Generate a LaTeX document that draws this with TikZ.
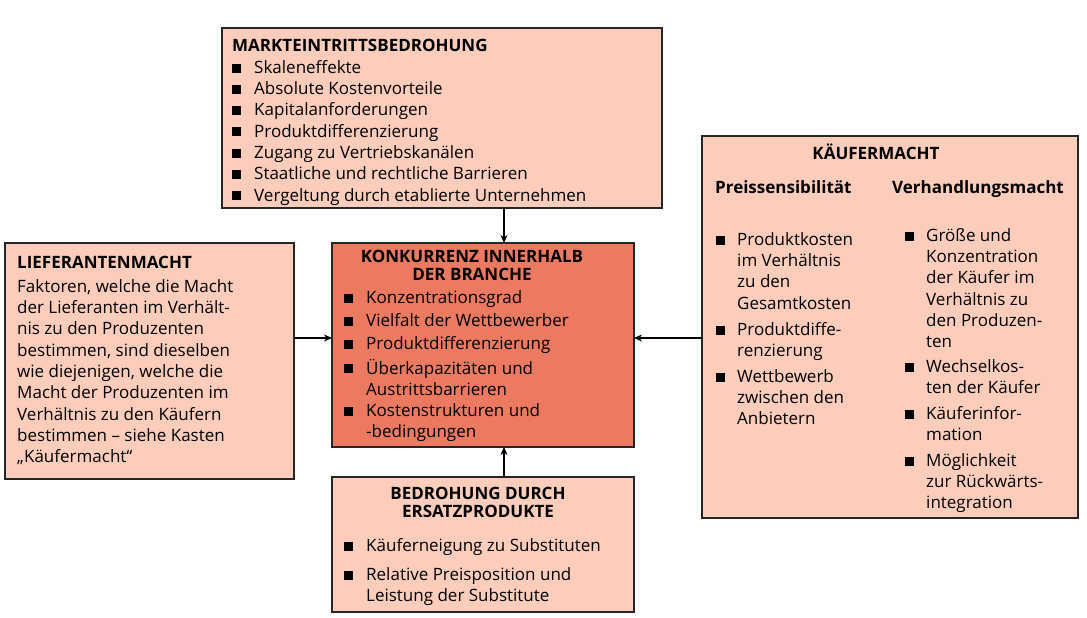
\documentclass[tikz,border=0pt]{standalone}
\usepackage{fontspec}
\setmainfont{Open Sans}
\usetikzlibrary{arrows.meta}
\tikzset{
  box/.style={draw=black!85, line width=1.6pt, fill=boxc, anchor=north west, inner sep=0pt, outer sep=0pt},
  txt/.style={anchor=north west, inner sep=0pt, align=left, font=\fontsize{17}{21.3}\selectfont},
  ttl/.style={anchor=north, inner sep=0pt, align=center, font=\fontsize{17}{18}\selectfont\bfseries},
  bul/.style={anchor=base west, inner sep=0pt},
  arr/.style={line width=1.6pt, -{Stealth[length=8pt,width=7pt]}}
}
\definecolor{boxc}{HTML}{FCCDBB}
\definecolor{ctrc}{HTML}{EC7A60}
\newcommand\bsq{\rule{9pt}{9pt}}
\newcommand\st{\rule{0pt}{14pt}}
\begin{document}
\begin{tikzpicture}[x=1pt,y=-1pt]
\useasboundingbox (0,0) rectangle (1087,618);
% boxes
\node[box, minimum width=440, minimum height=180] (top) at (222,28) {};
\node[box, minimum width=289, minimum height=236] (left) at (5,243) {};
\node[box, fill=ctrc, minimum width=302, minimum height=204] (ctr) at (332,243) {};
\node[box, minimum width=376, minimum height=382] (right) at (702,136) {};
\node[box, minimum width=302, minimum height=135] (bot) at (332,477) {};
% arrows
\coordinate (ax) at (504,0);
\coordinate (ay) at (0,338);
\draw[arr] (top.south -| ax) -- (ctr.north -| ax);
\draw[arr] (bot.north -| ax) -- (ctr.south -| ax);
\draw[arr] (left.east |- ay) -- (ctr.west |- ay);
\draw[arr] (right.west |- ay) -- (ctr.east |- ay);
% top text
\node[ttl, anchor=north west] (t0) at (232,37) {\st MARKTEINTRITTSBEDROHUNG};
\foreach \y in {73,94,115,136,158,179,200}{\node[bul] at (232,\y) {\bsq};}
\node[txt] (t1) at (254,59) {\st Skaleneffekte\\Absolute Kostenvorteile\\Kapitalanforderungen\\Produktdifferenzierung\\Zugang zu Vertriebskanälen\\Staatliche und rechtliche Barrieren\\Vergeltung durch etablierte Unternehmen};
% left text
\node[ttl, anchor=north west] (l0) at (17,254) {\st LIEFERANTENMACHT};
\node[txt] (l1) at (17,278) {\st Faktoren, welche die Macht\\der Lieferanten im Verhält-\\nis zu den Produzenten\\bestimmen, sind dieselben\\wie diejenigen, welche die\\Macht der Produzenten im\\Verhältnis zu den Käufern\\bestimmen – siehe Kasten\\„Käufermacht“};
% center text
\node[ttl] (c0) at (472,248) {\st KONKURRENZ INNERHALB\\DER BRANCHE};
\foreach \y in {303,326,349,373,416}{\node[bul] at (344,\y) {\bsq};}
\node[txt] (c1) at (366,289) {\st Konzentrationsgrad};
\node[txt] (c2) at (366,312) {\st Vielfalt der Wettbewerber};
\node[txt] (c3) at (366,335) {\st Produktdifferenzierung};
\node[txt] (c4) at (366,359) {\st Überkapazitäten und\\Austrittsbarrieren};
\node[txt] (c5) at (366,402) {\st Kostenstrukturen und\\-bedingungen};
% right text
\node[ttl] (r0) at (876,144) {\st KÄUFERMACHT};
\node[ttl, anchor=north west] (r1) at (715,179) {\st Preissensibilität};
\node[ttl, anchor=north west] (r2) at (892,179) {\st Verhandlungsmacht};
\foreach \y in {245,335,382}{\node[bul] at (716,\y) {\bsq};}
\node[txt] (r3) at (737,231) {\st Produktkosten\\im Verhältnis\\zu den\\Gesamtkosten};
\node[txt] (r4) at (737,321) {\st Produktdiffe-\\renzierung};
\node[txt] (r5) at (737,368) {\st Wettbewerb\\zwischen den\\Anbietern};
\foreach \y in {241,372,419,466}{\node[bul] at (905,\y) {\bsq};}
\node[txt] (r6) at (926,227) {\st Größe und\\Konzentration\\der Käufer im\\Verhältnis zu\\den Produzen-\\ten};
\node[txt] (r7) at (926,358) {\st Wechselkos-\\ten der Käufer};
\node[txt] (r8) at (926,405) {\st Käuferinfor-\\mation};
\node[txt] (r9) at (926,452) {\st Möglichkeit\\zur Rückwärts-\\integration};
% bottom text
\node[ttl] (b0) at (478,485) {\st BEDROHUNG DURCH\\ERSATZPRODUKTE};
\foreach \y in {551,580}{\node[bul] at (344,\y) {\bsq};}
\node[txt] (b1) at (366,537) {\st Käuferneigung zu Substituten};
\node[txt] (b2) at (366,566) {\st Relative Preisposition und\\Leistung der Substitute};
\end{tikzpicture}
\end{document}
